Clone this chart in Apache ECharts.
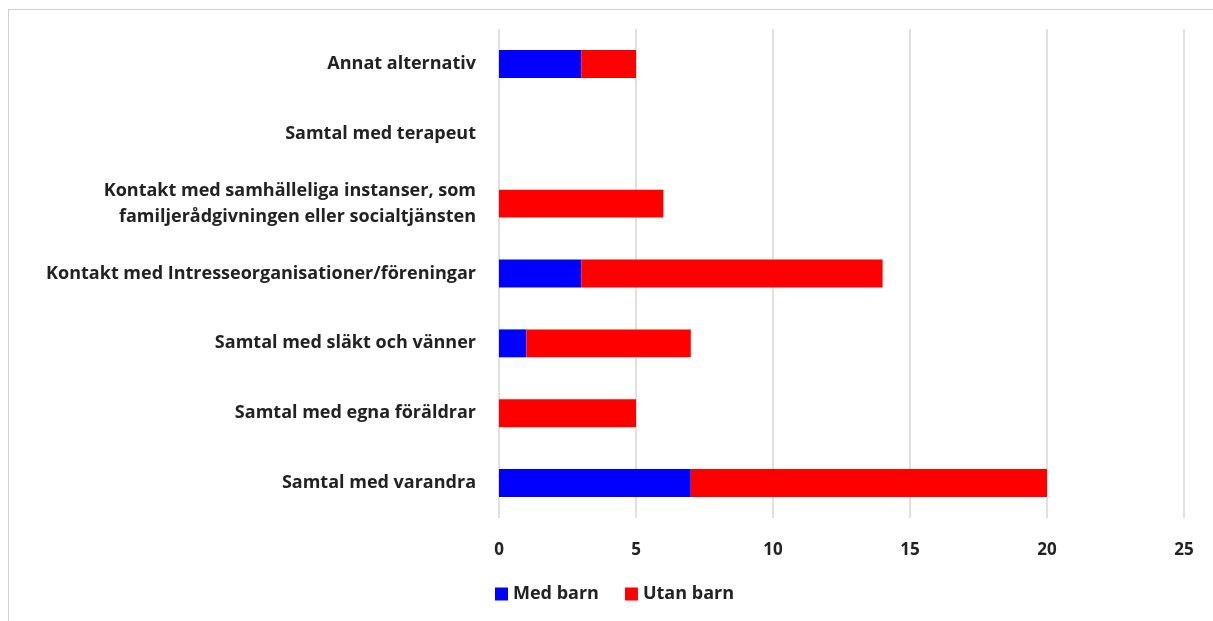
<!DOCTYPE html>
<html><head><meta charset="utf-8">
<script src="https://cdn.jsdelivr.net/npm/echarts@6/dist/echarts.min.js"></script>
<style>
html,body{margin:0;padding:0;background:#fff;}
#frame{position:absolute;left:8px;top:9px;width:1220px;height:630px;border:1.5px solid #d0d0d0;box-sizing:border-box;}
#c{position:absolute;left:0;top:0;width:1213px;height:621px;}
</style></head>
<body>
<div id="frame"></div>
<div id="c"></div>
<script>
const categories = ["Samtal med varandra","Samtal med egna föräldrar","Samtal med släkt och vänner","Kontakt med Intresseorganisationer/föreningar","Kontakt med samhälleliga instanser, som\nfamiljerådgivningen eller socialtjänsten","Samtal med terapeut","Annat alternativ"];
const medBarn = [7,0,1,3,0,0,3];
const utanBarn = [13,5,6,11,6,0,2];
const seriesNames = ["Med barn","Utan barn"];
const chart = echarts.init(document.getElementById('c'));
const font = '"Open Sans", sans-serif';
chart.setOption({
  animation:false,
  grid:{left:499,right:29,top:29,bottom:103,containLabel:false},
  legend:{bottom:13,left:490,itemWidth:13,itemHeight:13,itemGap:26,icon:'rect',
    textStyle:{fontFamily:font,fontWeight:'bold',fontSize:18,color:'#222'},data:seriesNames},
  xAxis:{type:'value',min:0,max:25,interval:5,
    axisLine:{show:false},axisTick:{show:false},
    splitLine:{lineStyle:{color:'#d6d6d6',width:1.5}},
    axisLabel:{margin:24,fontFamily:font,fontWeight:'bold',fontSize:17,color:'#222'}},
  yAxis:{type:'category',data:categories,
    axisLine:{show:false},axisTick:{show:false},
    axisLabel:{margin:23,fontFamily:font,fontWeight:'bold',fontSize:18,color:'#222',lineHeight:26,align:'right'}},
  series:[
    {name:seriesNames[0],type:'bar',stack:'a',data:medBarn,barWidth:'40%',itemStyle:{color:'#0000ff'}},
    {name:seriesNames[1],type:'bar',stack:'a',data:utanBarn,barWidth:'40%',itemStyle:{color:'#ff0000'}}
  ]
});
</script>
</body></html>
